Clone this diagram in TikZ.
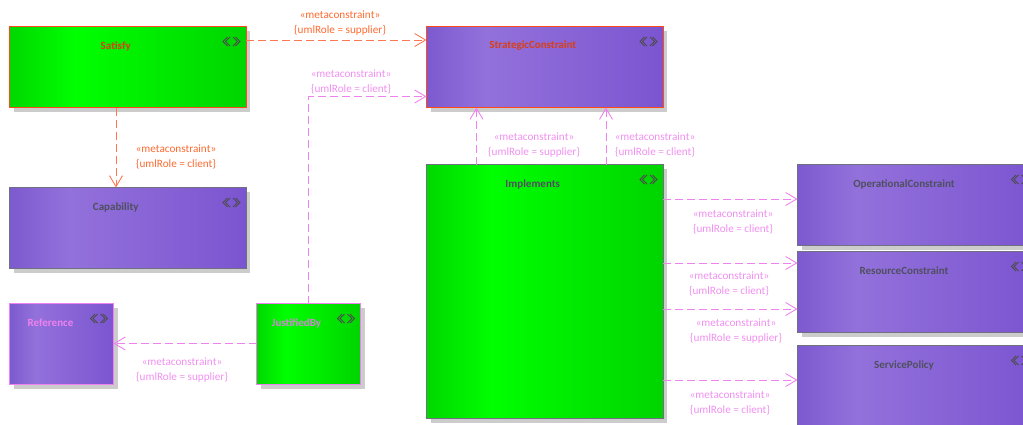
\documentclass[tikz,border=0pt]{standalone}
\usepackage{fontspec}
\setmainfont{Carlito}
\usetikzlibrary{arrows.meta,shadows,calc}
\definecolor{pu1}{HTML}{7C5ACF}
\definecolor{pu2}{HTML}{9371DB}
\definecolor{pu3}{HTML}{7B55D0}
\definecolor{gr1}{HTML}{00D800}
\definecolor{gr2}{HTML}{00FF00}
\definecolor{gr3}{HTML}{00D400}
\definecolor{orangeln}{HTML}{FF4A1A}
\definecolor{orangetx}{HTML}{FF6A30}
\definecolor{pinkln}{HTML}{EE82EE}
\definecolor{pinktx}{HTML}{F090F0}
\definecolor{greyln}{HTML}{6F7080}
\definecolor{darktx}{HTML}{4F4F5F}
\definecolor{shadowc}{HTML}{CCCCCC}
\pgfdeclarehorizontalshading{purpleshade}{100bp}{color(0bp)=(pu1);color(25bp)=(pu1);color(37.5bp)=(pu2);color(75bp)=(pu3);color(100bp)=(pu3)}
\pgfdeclarehorizontalshading{greenshade}{100bp}{color(0bp)=(gr1);color(25bp)=(gr1);color(39bp)=(gr2);color(75bp)=(gr3);color(100bp)=(gr3)}
\tikzset{
  umlbox/.style={rectangle,inner sep=0pt,outer sep=0pt,anchor=north west,line width=1pt,
    drop shadow={shadow xshift=4pt,shadow yshift=-4pt,fill=shadowc,opacity=1}},
  purplebox/.style={umlbox,shading=purpleshade},
  greenbox/.style={umlbox,shading=greenshade},
  boxtext/.style={font=\fontsize{11pt}{13pt}\selectfont\bfseries,inner sep=0pt},
  lbl/.style={font=\fontsize{11.2pt}{15pt}\selectfont,align=center,inner sep=0pt},
  link/.style={line width=0.9pt,dash pattern=on 8pt off 4pt,
    -{Straight Barb[length=11pt,width=13pt,line width=0.9pt]}},
  olink/.style={link,draw=orangeln!75!white},
  plink/.style={link,draw=pinkln},
  chev/.style={line width=1pt,draw=black!70},
}
% \boxnode{name}{style}{x}{y}{w}{h}{border}{text colour}{label offset}, then the text follows
\newcommand{\boxnode}[9]{%
  \node[#2,draw=#7,minimum width=#5pt,minimum height=#6pt] (#1) at (#3,#4) {};
  \draw[chev,shift={($(#1.north east)+(-14.5pt,-15pt)$)}]
    (-1.5,-4.5) -- (-6,0) -- (-1.5,4.5) (-4,-4.5) -- (-8.5,0) -- (-4,4.5)
    ( 1.5,-4.5) -- ( 6,0) -- ( 1.5,4.5) ( 4,-4.5) -- ( 8.5,0) -- ( 4,4.5);
  \node[boxtext,text=#8] (#1text) at ($(#1.north)+(#9,-19.5pt)$)}
\begin{document}
\begin{tikzpicture}[x=1pt,y=-1pt]
\useasboundingbox (0,0) rectangle (1023,424);
\clip (0,0) rectangle (1023,424);

\boxnode{satisfy}{greenbox}{9.5}{26.5}{236.5}{81}{orangeln}{orangeln!85!black}{-12pt}{Satisfy};
\boxnode{strategic}{purplebox}{426.5}{26.5}{236.5}{81}{orangeln}{orangeln!85!black}{-12pt}{StrategicConstraint};
\boxnode{capability}{purplebox}{9.5}{187.5}{236.5}{81}{greyln}{darktx}{-12pt}{Capability};
\boxnode{reference}{purplebox}{9.5}{303.5}{104}{81}{pinkln}{pinkln}{-11pt}{Reference};
\boxnode{justified}{greenbox}{256.5}{303.5}{104}{81}{pinkln}{pinkln!80!gray}{-12pt}{JustifiedBy};
\boxnode{implements}{greenbox}{426.5}{164.5}{236.5}{254}{greyln}{darktx}{-12pt}{Implements};
\boxnode{operational}{purplebox}{797.5}{164.5}{237}{81}{greyln}{darktx}{-12pt}{OperationalConstraint};
\boxnode{resource}{purplebox}{797.5}{251.5}{237}{81}{greyln}{darktx}{-12pt}{ResourceConstraint};
\boxnode{service}{purplebox}{797.5}{345.5}{237}{81}{greyln}{darktx}{-12pt}{ServicePolicy};

\draw[olink] (satisfy.east |- 0,40) -- (strategic.west |- 0,40);
\draw[olink] (116,107.5) -- (116,187.5);
\coordinate (jbtop) at (308.5,303.5);
\coordinate (jbbend) at (308.5,96.5);
\draw[plink] (jbtop) -- (jbbend) -- (strategic.west |- jbbend);
\draw[plink] (476.5,164.5) -- (476.5,107.5);
\draw[plink] (606,164.5) -- (606,107.5);
\draw[plink] (implements.east |- 0,199) -- (operational.west |- 0,199);
\draw[plink] (implements.east |- 0,263) -- (resource.west |- 0,263);
\draw[plink] (implements.east |- 0,309) -- (resource.west |- 0,309);
\draw[plink] (implements.east |- 0,380) -- (service.west |- 0,380);
\draw[plink] (justified.west |- 0,343.5) -- (reference.east |- 0,343.5);

\node[lbl,text=orangetx] (l1) at (340,23.5) {«metaconstraint»\\\{umlRole = supplier\}};
\node[lbl,text=pinktx] (l2) at (351,82) {«metaconstraint»\\\{umlRole = client\}};
\node[lbl,text=orangetx] (l3) at (176,156.5) {«metaconstraint»\\\{umlRole = client\}};
\node[lbl,text=pinktx] (l4) at (534,145) {«metaconstraint»\\\{umlRole = supplier\}};
\node[lbl,text=pinktx] (l5) at (655,145) {«metaconstraint»\\\{umlRole = client\}};
\node[lbl,text=pinktx] (l6) at (733,222) {«metaconstraint»\\\{umlRole = client\}};
\node[lbl,text=pinktx] (l7) at (729,283.5) {«metaconstraint»\\\{umlRole = client\}};
\node[lbl,text=pinktx] (l8) at (736,331) {«metaconstraint»\\\{umlRole = supplier\}};
\node[lbl,text=pinktx] (l9) at (730,403) {«metaconstraint»\\\{umlRole = client\}};
\node[lbl,text=pinktx] (l10) at (182,370.5) {«metaconstraint»\\\{umlRole = supplier\}};
\end{tikzpicture}
\end{document}
